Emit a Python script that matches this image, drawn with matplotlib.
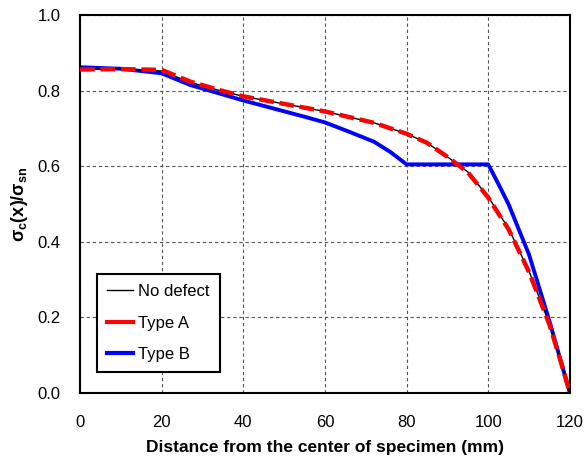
import matplotlib
matplotlib.use("Agg")
import matplotlib.pyplot as plt
from matplotlib.lines import Line2D
from matplotlib.ticker import FormatStrFormatter

plt.rcParams['font.family'] = ['Liberation Sans', 'DejaVu Sans']
plt.rcParams['mathtext.fontset'] = 'custom'
plt.rcParams['mathtext.rm'] = 'Liberation Sans'
plt.rcParams['mathtext.bf'] = 'Liberation Sans:bold'
plt.rcParams['mathtext.it'] = 'Liberation Sans:italic'

# No defect
x_nd = [0, 10, 20, 27, 34, 40, 50, 60, 72, 80, 85, 90, 95, 100, 105, 110, 115, 118, 120]
y_nd = [0.858, 0.857, 0.852, 0.822, 0.801, 0.785, 0.765, 0.745, 0.715, 0.686, 0.662,
        0.625, 0.585, 0.519, 0.435, 0.322, 0.183, 0.076, 0.0]
# Type A
x_a = [0, 10, 20, 27, 34, 40, 50, 60, 72, 80, 85, 90, 95, 100, 105, 110, 115, 118, 120]
y_a = [0.856, 0.857, 0.855, 0.824, 0.802, 0.785, 0.765, 0.745, 0.715, 0.686, 0.662,
       0.625, 0.584, 0.517, 0.433, 0.320, 0.181, 0.075, 0.0]
# Type B
x_b = [0, 10, 20, 27, 34, 40, 47, 55, 60, 66, 72, 76, 80, 100, 102.5, 105, 110, 115, 120]
y_b = [0.862, 0.858, 0.846, 0.815, 0.793, 0.774, 0.754, 0.731, 0.716, 0.691, 0.665,
       0.638, 0.605, 0.605, 0.553, 0.499, 0.366, 0.190, 0.0]

fig = plt.figure(figsize=(5.86, 4.57), dpi=100)
ax = fig.add_axes([0.1365, 0.140, 0.836, 0.827])

ax.plot(x_nd, y_nd, color='black', lw=1.0, label='No defect', zorder=3)
ax.plot(x_a, y_a, color='#ff0000', lw=3.2, dashes=(3.3, 1.3), label='Type A', zorder=4)
ax.plot(x_b, y_b, color='#0000ff', lw=2.8, label='Type B', zorder=2)

ax.set_xlim(0, 120)
ax.set_ylim(0, 1.0)
ax.set_xticks([0, 20, 40, 60, 80, 100, 120])
ax.set_yticks([0.0, 0.2, 0.4, 0.6, 0.8, 1.0])
ax.yaxis.set_major_formatter(FormatStrFormatter('%.1f'))
ax.tick_params(length=0, labelsize=12)
ax.tick_params(axis='y', pad=14)
ax.tick_params(axis='x', pad=16)
ax.grid(True, color='#555555', ls=(0, (3, 2.5)), lw=0.8)
for s in ax.spines.values():
    s.set_linewidth(1.5)
    s.set_color('black')

ax.set_xlabel('Distance from the center of specimen (mm)', fontsize=12.5, fontweight='bold', labelpad=7)
ax.set_ylabel(r'$\mathbf{σ_c(x)/σ_{sn}}$', fontsize=13, labelpad=5)

handles = [Line2D([], [], color='black', lw=1.0),
           Line2D([], [], color='#ff0000', lw=3.0),
           Line2D([], [], color='#0000ff', lw=3.0)]
leg = ax.legend(handles, ['No defect', 'Type A', 'Type B'], loc='lower left',
                bbox_to_anchor=(0.034, 0.055), borderaxespad=0, fontsize=12,
                fancybox=False, framealpha=1, edgecolor='black', handlelength=1.6,
                labelspacing=1.0, handletextpad=0.3, borderpad=0.6)
leg.get_frame().set_linewidth(1.5)

fig.savefig('out.png', dpi=100)
